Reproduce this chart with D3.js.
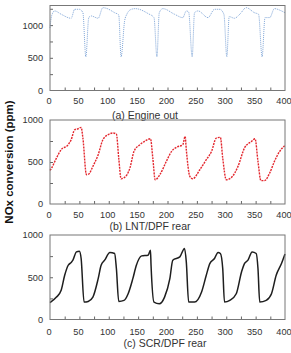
<!DOCTYPE html>
<html>
<head>
<meta charset="utf-8">
<script src="https://cdn.jsdelivr.net/npm/d3@7"></script>
<style>
  body { margin: 0; background: #fff; }
  svg { display: block; font-family: Arial, "Liberation Sans", sans-serif; }
  .tick text { fill: #333; font-size: 9.2px; }
</style>
</head>
<body>
<div id="chart"></div>
<script>
// time (s) and NOx (ppm)
const timeA = [0,3,8,19,36,42,50,56,61,66,70,82,90,96,110,117,121,127,131,138,145,167,177,182,186,192,212,226,232,236,242,246,252,269,280,289,296,301,305,314,323,334,348,355,361,366,374,382,394,400];
const engineOut = [960,1150,1217,1166,1105,1242,1242,1190,515,1115,1140,1105,1267,1257,1190,1155,515,1064,1170,1240,1252,1176,1115,515,1190,1252,1166,1115,1217,1200,515,1190,1217,1115,1242,1242,1166,515,1130,1105,1166,1267,1190,1166,515,1115,1115,1252,1217,1190];

const timeB = [0,2,11,19,31,36,42,48,53,56,62,66,73,82,90,99,107,113,117,121,127,136,143,153,161,171,175,179,187,198,207,215,226,230,232,238,243,255,266,275,283,290,294,300,309,320,331,343,349,354,359,365,374,382,391,400];
const lntRear = [400,420,547,647,706,765,884,896,912,785,349,357,448,587,765,825,845,833,547,301,317,428,627,706,746,777,547,289,349,507,627,674,706,805,647,329,301,408,527,627,785,793,547,289,317,448,666,746,777,507,278,278,369,507,627,698];

const timeC = [0,11,19,25,31,36,39,45,50,53,58,65,73,82,87,93,102,110,113,117,126,133,141,147,156,167,171,172,177,186,195,204,209,221,229,232,236,246,258,266,272,280,286,290,294,297,306,317,326,331,337,344,351,354,357,368,377,385,394,400];
const scrRear = [200,265,345,523,642,674,702,800,808,722,206,214,265,484,642,702,793,781,603,214,226,305,484,642,753,761,820,642,206,186,265,484,702,741,840,682,206,206,325,523,662,722,793,781,603,206,226,305,563,662,702,800,781,603,206,226,305,523,662,775];

const xTicks = [0,50,100,150,200,250,300,350,400];
const yTicks = [0,500,1000];
const titles = ['(a) Engine out', '(b) LNT/DPF rear', '(c) SCR/DPF rear'];

const width = 291, height = 353;
const left = 50, right = 285;

const panels = [
  {t: timeA, v: engineOut, top: 5.5, bottom: 90.5, ymax: 1300, color: '#7fa6d8', sw: 1, dash: '1,1', titleX: 145, titleY: 119, labelY: 104},
  {t: timeB, v: lntRear, top: 120, bottom: 204, ymax: 1000, color: '#e3262d', sw: 1.4, dash: '2,1', titleX: 150, titleY: 230, labelY: 218},
  {t: timeC, v: scrRear, top: 235, bottom: 319.5, ymax: 1000, color: '#1e1e1e', sw: 1.5, dash: null, titleX: 165, titleY: 347, labelY: 335}
];

const svg = d3.select('#chart').append('svg')
  .attr('width', width)
  .attr('height', height);

const x = d3.scaleLinear().domain([0, 400]).range([left, right]);

panels.forEach((p, i) => {
  const y = d3.scaleLinear().domain([0, p.ymax]).range([p.bottom, p.top]);
  const g = svg.append('g');

  // minor ticks inside the frame
  g.append('g')
    .attr('transform', `translate(0,${p.bottom})`)
    .call(d3.axisTop(x).tickValues(d3.range(25, 400, 25)).tickSize(3).tickFormat(''))
    .call(a => a.select('.domain').remove())
    .call(a => a.selectAll('line').attr('stroke', '#666'));
  g.append('g')
    .attr('transform', `translate(${left},0)`)
    .call(d3.axisRight(y).tickValues(d3.range(250, p.ymax, 250)).tickSize(3).tickFormat(''))
    .call(a => a.select('.domain').remove())
    .call(a => a.selectAll('line').attr('stroke', '#666'));

  // tick labels (sit a touch left of their ticks, as in the source)
  g.append('g')
    .attr('transform', `translate(-1.5,${p.bottom})`)
    .call(d3.axisBottom(x).tickValues(xTicks).tickSize(0).tickFormat(d3.format('d')).tickPadding(p.labelY - p.bottom - 7))
    .call(a => a.select('.domain').remove());
  g.append('g')
    .attr('transform', `translate(${left},0)`)
    .call(d3.axisLeft(y).tickValues(yTicks).tickSize(0).tickFormat(d3.format('d')).tickPadding(7))
    .call(a => a.select('.domain').remove());

  const line = d3.line()
    .x((d, j) => x(p.t[j]))
    .y(d => y(d))
    .curve(d3.curveMonotoneX);

  g.append('path')
    .datum(p.v)
    .attr('fill', 'none')
    .attr('stroke', p.color)
    .attr('stroke-width', p.sw)
    .attr('stroke-dasharray', p.dash)
    .attr('d', line);

  g.append('rect')
    .attr('x', left).attr('y', p.top)
    .attr('width', right - left).attr('height', p.bottom - p.top)
    .attr('fill', 'none')
    .attr('stroke', '#777')
    .attr('stroke-width', 1);

  g.append('text')
    .attr('x', p.titleX).attr('y', p.titleY)
    .attr('text-anchor', 'middle')
    .attr('font-size', 10.5)
    .attr('fill', '#333')
    .text(titles[i]);
});

svg.append('text')
  .attr('transform', 'translate(13,162) rotate(-90)')
  .attr('text-anchor', 'middle')
  .attr('font-size', 11.5)
  .attr('font-weight', 'bold')
  .attr('fill', '#111')
  .text('NOx conversion (ppm)');
</script>
</body>
</html>
